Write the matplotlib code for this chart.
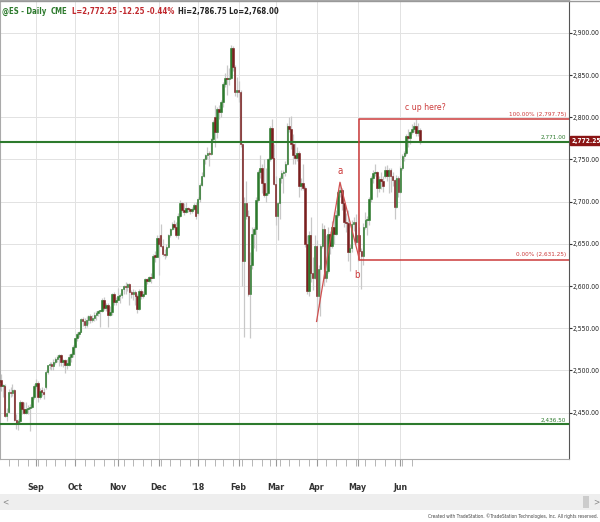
import numpy as np
import pandas as pd
import matplotlib
matplotlib.use('Agg')
import matplotlib.pyplot as plt
from matplotlib.patches import Rectangle
import matplotlib.transforms as mtransforms

# @ES daily bars, 7-Aug-2017 .. 15-Jun-2018
start_day = '2017-08-07'
end_day = '2018-06-15'
holidays = ['2017-09-04', '2017-11-23', '2017-12-25', '2018-01-01',
            '2018-01-15', '2018-02-19', '2018-03-30', '2018-05-28']

opens = [
    # Aug
    2486, 2489, 2481, 2482, 2446, 2451, 2475, 2473, 2477, 2441, 2438, 2440, 2463, 2454, 2450, 2454, 2455, 2457, 2468,
    # Sep
    2481, 2485, 2469, 2476, 2475, 2480, 2498, 2506, 2508, 2505, 2510, 2513, 2516, 2518, 2510, 2512, 2507, 2507, 2516, 2520,
    # Oct
    2528, 2538, 2543, 2546, 2561, 2558, 2554, 2560, 2564, 2560, 2562, 2566, 2568, 2570, 2571, 2584, 2574, 2578, 2566, 2569, 2590, 2581,
    # Nov
    2584, 2588, 2589, 2596, 2600, 2599, 2603, 2593, 2591, 2593, 2588, 2573, 2594, 2588, 2591, 2608, 2606, 2611, 2610, 2636, 2635,
    # Dec
    2657, 2660, 2647, 2638, 2637, 2646, 2660, 2668, 2673, 2670, 2660, 2683, 2698, 2690, 2688, 2692, 2691, 2689, 2691, 2696,
    # Jan
    2686, 2703, 2720, 2731, 2750, 2755, 2758, 2756, 2774, 2800, 2783, 2810, 2806, 2818, 2840, 2847, 2845, 2847, 2882, 2860, 2830,
    # Feb
    2832, 2830, 2768, 2630, 2698, 2683, 2590, 2625, 2662, 2668, 2702, 2735, 2740, 2722, 2708, 2710, 2750, 2787, 2752,
    # Mar
    2721, 2683, 2698, 2728, 2734, 2735, 2745, 2790, 2786, 2768, 2755, 2752, 2758, 2719, 2722, 2716, 2650, 2594, 2660, 2615, 2610,
    # Apr
    2648, 2588, 2620, 2648, 2668, 2610, 2618, 2662, 2648, 2670, 2662, 2684, 2711, 2714, 2698, 2676, 2675, 2640, 2645, 2673, 2676,
    # May
    2652, 2660, 2641, 2636, 2670, 2678, 2678, 2703, 2728, 2734, 2735, 2716, 2727, 2725, 2730, 2738, 2730, 2738, 2731, 2726, 2694, 2728,
    # Jun
    2711, 2740, 2754, 2758, 2778, 2776, 2783, 2786, 2790, 2781, 2784.5,
]
highs = [
    2492, 2496, 2484, 2484, 2456, 2478, 2480, 2484, 2478, 2448, 2443, 2465, 2464, 2462, 2463, 2459, 2460, 2470, 2484,
    2490, 2487, 2479, 2480, 2479, 2500, 2507, 2510, 2510, 2513, 2516, 2518, 2520, 2519, 2514, 2514, 2513, 2520, 2521, 2530,
    2539, 2545, 2547, 2562, 2563, 2562, 2564, 2566, 2567, 2566, 2569, 2570, 2572, 2572, 2586, 2587, 2580, 2580, 2576, 2592, 2593, 2587,
    2598, 2592, 2597, 2601, 2605, 2604, 2604, 2595, 2597, 2595, 2590, 2596, 2597, 2594, 2610, 2610, 2612, 2615, 2638, 2642, 2660,
    2660, 2673, 2656, 2644, 2650, 2662, 2669, 2676, 2678, 2676, 2686, 2702, 2700, 2699, 2700, 2694, 2693, 2694, 2698, 2700,
    2705, 2722, 2735, 2752, 2757, 2765, 2760, 2776, 2797, 2814, 2812, 2815, 2820, 2842, 2853, 2862, 2858, 2886, 2885, 2862, 2848,
    2843, 2832, 2770, 2705, 2725, 2690, 2640, 2670, 2670, 2705, 2737, 2755, 2745, 2750, 2740, 2752, 2790, 2798, 2768,
    2730, 2700, 2730, 2738, 2738, 2748, 2793, 2800, 2801, 2780, 2770, 2765, 2760, 2728, 2745, 2718, 2660, 2665, 2682, 2635, 2660,
    2655, 2625, 2650, 2675, 2672, 2660, 2670, 2665, 2677, 2688, 2690, 2714, 2723, 2716, 2700, 2686, 2690, 2650, 2678, 2682, 2685,
    2662, 2670, 2645, 2675, 2688, 2683, 2705, 2730, 2738, 2745, 2736, 2730, 2735, 2730, 2742, 2743, 2740, 2740, 2735, 2727, 2732, 2730,
    2742, 2756, 2760, 2780, 2786, 2784, 2792, 2794, 2797.75, 2793, 2786.75,
]
lows = [
    2482, 2476, 2468, 2445, 2440, 2450, 2468, 2470, 2440, 2430, 2429, 2438, 2448, 2448, 2448, 2448, 2428, 2455, 2466,
    2479, 2463, 2466, 2470, 2466, 2478, 2496, 2502, 2500, 2501, 2508, 2510, 2505, 2505, 2504, 2497, 2502, 2505, 2510, 2516,
    2527, 2535, 2540, 2545, 2553, 2550, 2552, 2555, 2556, 2557, 2558, 2560, 2565, 2552, 2569, 2572, 2571, 2552, 2564, 2566, 2578, 2578,
    2584, 2580, 2586, 2591, 2591, 2594, 2577, 2586, 2584, 2578, 2568, 2572, 2585, 2586, 2590, 2603, 2605, 2604, 2609, 2628, 2634,
    2613, 2646, 2636, 2632, 2635, 2645, 2658, 2666, 2668, 2658, 2656, 2682, 2688, 2684, 2687, 2688, 2685, 2686, 2690, 2680,
    2684, 2700, 2718, 2729, 2745, 2750, 2742, 2755, 2772, 2765, 2775, 2798, 2800, 2812, 2836, 2826, 2838, 2845, 2855, 2825, 2824,
    2818, 2765, 2600, 2540, 2680, 2588, 2538, 2620, 2645, 2642, 2700, 2728, 2710, 2705, 2700, 2708, 2748, 2750, 2720,
    2672, 2655, 2680, 2722, 2710, 2730, 2743, 2782, 2762, 2745, 2745, 2748, 2705, 2714, 2714, 2646, 2590, 2588, 2605, 2595, 2608,
    2558, 2575, 2565, 2645, 2600, 2605, 2615, 2638, 2645, 2650, 2660, 2682, 2706, 2690, 2670, 2664, 2630, 2618, 2640, 2665, 2650,
    2630, 2638, 2596, 2625, 2668, 2660, 2672, 2700, 2722, 2730, 2705, 2712, 2715, 2712, 2728, 2725, 2710, 2712, 2718, 2680, 2692, 2706,
    2710, 2738, 2748, 2755, 2765, 2768, 2780, 2783, 2778, 2778, 2768,
]
closes = [
    2489, 2481, 2482, 2446, 2450, 2475, 2473, 2477, 2441, 2438, 2440, 2463, 2454, 2450, 2454, 2455, 2457, 2468, 2481,
    2485, 2469, 2476, 2475, 2472, 2498, 2506, 2508, 2505, 2510, 2513, 2516, 2518, 2510, 2512, 2507, 2507, 2516, 2520, 2528,
    2538, 2543, 2546, 2561, 2558, 2554, 2560, 2564, 2560, 2562, 2566, 2568, 2570, 2571, 2584, 2574, 2578, 2566, 2569, 2590, 2581, 2584,
    2588, 2589, 2596, 2600, 2599, 2603, 2593, 2591, 2593, 2588, 2573, 2594, 2588, 2591, 2608, 2606, 2611, 2610, 2636, 2635, 2657,
    2650, 2647, 2638, 2637, 2646, 2660, 2668, 2673, 2670, 2660, 2683, 2698, 2690, 2688, 2692, 2691, 2689, 2691, 2696, 2683,
    2703, 2720, 2731, 2750, 2755, 2758, 2756, 2774, 2794, 2783, 2810, 2806, 2818, 2840, 2847, 2845, 2847, 2882, 2860, 2830, 2832,
    2830, 2768, 2630, 2698, 2683, 2590, 2625, 2662, 2668, 2702, 2735, 2740, 2722, 2708, 2710, 2750, 2787, 2752, 2721,
    2683, 2698, 2728, 2734, 2735, 2745, 2790, 2786, 2768, 2755, 2752, 2758, 2719, 2722, 2716, 2650, 2594, 2660, 2615, 2610, 2648,
    2588, 2620, 2648, 2668, 2610, 2618, 2662, 2648, 2670, 2662, 2684, 2711, 2714, 2698, 2676, 2675, 2640, 2645, 2673, 2676, 2652,
    2660, 2641, 2636, 2670, 2678, 2678, 2703, 2728, 2734, 2735, 2716, 2727, 2725, 2718, 2738, 2730, 2738, 2731, 2726, 2694, 2728, 2711,
    2740, 2754, 2758, 2778, 2776, 2783, 2786, 2790, 2781, 2784.5, 2772.25,
]

# drawn levels
support_levels = [2771.00, 2436.50]
fib_high = 2797.75
fib_low = 2631.25
fib_start_day = '2018-05-02'
wave_days = ['2018-04-02', '2018-04-18', '2018-05-02']
wave_prices = [2558, 2723, 2631.25]
wave_labels = ['a', 'b']
y_ticks = [2450, 2500, 2550, 2600, 2650, 2700, 2750, 2800, 2850, 2900]

GREEN = '#2d7a2d'
RED = '#7a1f1f'
FIBRED = '#cc3a3a'
narrow = ['Liberation Sans Narrow', 'DejaVu Sans']
cond = 'condensed'

dates = pd.bdate_range(start_day, end_day, freq='C', holidays=holidays)
opens = np.array(opens, dtype=float)
highs = np.array(highs, dtype=float)
lows = np.array(lows, dtype=float)
closes = np.array(closes, dtype=float)
x = np.arange(len(dates))


def day_index(d):
    return int(dates.get_loc(pd.Timestamp(d)))


fig = plt.figure(figsize=(6, 5.22), dpi=100)
ax = fig.add_axes([0, 1 - 459 / 522, 569 / 600, 459 / 522])
x_right = 292.5
ax.set_xlim(0.6, x_right)
ax.set_ylim(2395, 2939)

# grid
month_pos = [i for i in range(1, len(dates)) if dates[i].month != dates[i - 1].month]
month_lab = ["'18" if dates[i].month == 1 else dates[i].strftime('%b') for i in month_pos]
week_pos = [i for i in range(1, len(dates)) if dates[i].weekday() < dates[i - 1].weekday()]
for p in month_pos:
    ax.axvline(p, color='#e2e2e2', lw=0.7, zorder=0)
for p in y_ticks:
    ax.axhline(p, color='#e2e2e2', lw=0.7, zorder=0)

# candles
up = closes >= opens
colors = np.where(up, GREEN, RED)
ax.vlines(x, lows, highs, color='#c8c8c8', lw=0.9, zorder=2)
body_bottom = np.minimum(opens, closes)
body_h = np.maximum(np.abs(closes - opens), 1.2)
ax.bar(x, body_h, bottom=body_bottom, width=0.8, color=colors, edgecolor=colors, lw=0.4, zorder=3)

# horizontal support / resistance lines
for lvl in support_levels:
    ax.axhline(lvl, color=GREEN, lw=1.5, zorder=4)
    ax.text(x_right - 1.5, lvl + 2, f'{lvl:,.2f}', color=GREEN, fontsize=4.6,
            family=narrow, fontstretch=cond, ha='right', va='bottom', zorder=5)

# fibonacci box
fs = day_index(fib_start_day)
ax.plot([x_right, fs, fs, x_right], [fib_high, fib_high, fib_low, fib_low],
        color=FIBRED, lw=1.1, zorder=4)
ax.text(x_right - 1.5, fib_high + 3, f'100.00% ({fib_high:,.2f})', color=FIBRED,
        fontsize=4.6, family=narrow, fontstretch=cond, ha='right', va='bottom')
ax.text(x_right - 1.5, fib_low + 3, f'0.00% ({fib_low:,.2f})', color=FIBRED,
        fontsize=4.6, family=narrow, fontstretch=cond, ha='right', va='bottom')

# a-b swing lines
wx = [day_index(d) for d in wave_days]
ax.plot(wx, wave_prices, color='#d05050', lw=0.9, zorder=5)
ax.text(wx[1], wave_prices[1] + 8, wave_labels[0], color=FIBRED, fontsize=7,
        family=narrow, fontstretch=cond, ha='center', va='bottom')
ax.text(wx[2] - 1, wave_prices[2] - 12, wave_labels[1], color=FIBRED, fontsize=7,
        family=narrow, fontstretch=cond, ha='center', va='top')
ax.text(wx[2] + 34, fib_high + 9, 'c up here?', color=FIBRED, fontsize=6.2,
        family=narrow, fontstretch=cond, ha='center', va='bottom')

# axes styling
ax.yaxis.tick_right()
ax.set_yticks(y_ticks)
ax.set_yticklabels([f'{v:,.2f}' for v in y_ticks], family=narrow, fontstretch=cond,
                   fontsize=4.9, color='#222')
ax.set_xticks(month_pos)
ax.set_xticklabels(month_lab, family=narrow, fontstretch=cond, fontsize=6.3,
                   color='#333', fontweight='bold')
ax.set_xticks(week_pos, minor=True)
ax.tick_params(axis='x', which='major', length=5, pad=12, color='#999')
ax.tick_params(axis='x', which='minor', length=5, color='#aaa')
ax.tick_params(axis='y', length=2, pad=0.5, color='#333')
for side in ['left', 'top', 'bottom']:
    ax.spines[side].set_color('#aaaaaa')
ax.spines['right'].set_color('#555555')

# last price box
trans = mtransforms.blended_transform_factory(ax.transAxes, ax.transData)
ax.text(1.005, closes[-1], f'{closes[-1]:,.2f}', transform=trans, color='white',
        fontsize=4.8, family=narrow, fontstretch=cond, fontweight='bold', ha='left', va='center',
        bbox=dict(boxstyle='square,pad=0.25', fc='#8b1515', ec='#8b1515'), clip_on=False)

# header
chg = closes[-1] - closes[-2]
hsize = 5.6
t1 = fig.text(0.004, 0.979, '@ES - Daily', color=GREEN, fontsize=hsize, family=narrow,
              fontstretch=cond, fontweight='bold', va='center')
t2 = ax.annotate('CME', xy=(1, 0), xycoords=t1, xytext=(3, 0), textcoords='offset points',
                 color=GREEN, fontsize=hsize, family=narrow, fontstretch=cond,
                 fontweight='bold', va='bottom')
t3 = ax.annotate(f'L={closes[-1]:,.2f} {chg:.2f} {chg / closes[-2] * 100:.2f}%', xy=(1, 0),
                 xycoords=t2, xytext=(3, 0), textcoords='offset points', color='#c0282d',
                 fontsize=hsize, family=narrow, fontstretch=cond, fontweight='bold', va='bottom')
ax.annotate(f'Hi={highs[-1]:,.2f} Lo={lows[-1]:,.2f}', xy=(1, 0), xycoords=t3,
            xytext=(3, 0), textcoords='offset points', color='#222', fontsize=hsize,
            family=narrow, fontstretch=cond, fontweight='bold', va='bottom')

# scroll bar + footer
fig.add_artist(Rectangle((0, 1 - 510 / 522), 1, 16 / 522, transform=fig.transFigure,
                         fc='#eeeeee', ec='none'))
fig.add_artist(Rectangle((583 / 600, 1 - 508 / 522), 6 / 600, 12 / 522, transform=fig.transFigure,
                         fc='#cccccc', ec='none'))
fig.text(0.004, 1 - 502 / 522, '<', fontsize=5.5, color='#888', va='center')
fig.text(0.988, 1 - 502 / 522, '>', fontsize=5.5, color='#888', va='center')
fig.text(0.997, 1 - 516 / 522, 'Created with TradeStation. ©TradeStation Technologies, Inc. All rights reserved.',
         fontsize=3.4, color='#444', family=narrow, fontstretch=cond, ha='right', va='center')
fig.add_artist(plt.Line2D([0, 1], [0.999, 0.999], transform=fig.transFigure, color='#999', lw=1))

fig.savefig('out.png', dpi=100)
